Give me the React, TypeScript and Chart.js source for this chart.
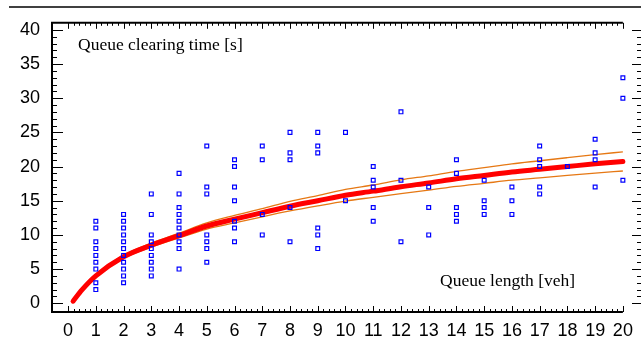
import React, { useEffect, useRef } from "react";
import { Chart, registerables } from "chart.js";

Chart.register(...registerables);

// Observed queue lengths [veh] and the clearing times [s] recorded at each one
const queueLengths = [1, 2, 3, 4, 5, 6, 7, 8, 9, 10, 11, 12, 13, 14, 15, 16, 17, 18, 19, 20];
const clearingTimes: number[][] = [
  [2, 3, 5, 6, 7, 8, 9, 11, 12],
  [3, 4, 5, 6, 7, 8, 9, 10, 11, 12, 13],
  [4, 5, 6, 7, 8, 9, 10, 13, 16],
  [5, 8, 9, 10, 11, 12, 13, 14, 16, 19],
  [6, 8, 9, 10, 16, 17, 23],
  [9, 11, 12, 15, 17, 20, 21],
  [10, 13, 21, 23],
  [9, 14, 21, 22, 25],
  [8, 10, 11, 22, 23, 25],
  [15, 25],
  [12, 14, 17, 18, 20],
  [9, 18, 28],
  [10, 14, 17],
  [12, 13, 14, 19, 21],
  [13, 14, 15, 18],
  [13, 15, 17],
  [16, 17, 20, 21, 23],
  [20],
  [17, 21, 22, 24],
  [18, 30, 33],
];

// Fitted curve and its confidence band
const fitX = [0.18, 0.5, 1, 2, 3, 4, 5, 6, 7, 8, 9, 10, 11, 12, 13, 14, 15, 16, 17, 18, 19, 20];
const fitMid = [0.3, 1.95, 4.0, 6.8, 8.5, 9.9, 11.3, 12.3, 13.25, 14.2, 15.0, 15.8, 16.4, 17.05, 17.6, 18.2, 18.7, 19.2, 19.6, 20.0, 20.4, 20.75];
const fitUpper = [0.35, 2.05, 4.15, 7.0, 8.8, 10.25, 11.75, 12.85, 13.85, 14.9, 15.75, 16.65, 17.3, 18.05, 18.65, 19.3, 19.85, 20.4, 20.85, 21.3, 21.75, 22.15];
const fitLower = [0.25, 1.85, 3.85, 6.6, 8.2, 9.55, 10.85, 11.75, 12.65, 13.5, 14.25, 14.95, 15.5, 16.05, 16.55, 17.1, 17.55, 18.0, 18.35, 18.7, 19.05, 19.35];

const xTickValues = [0, 1, 2, 3, 4, 5, 6, 7, 8, 9, 10, 11, 12, 13, 14, 15, 16, 17, 18, 19, 20];
const yTickValues = [0, 5, 10, 15, 20, 25, 30, 35, 40];

const yLabel = "Queue clearing time [s]";
const xLabel = "Queue length [veh]";

const framePlugin = {
  id: "frame",
  afterDraw(chart: any) {
    const { ctx, chartArea } = chart;
    const xs = chart.scales.x;
    const ys = chart.scales.y;
    const L = chartArea.left;
    const T = chartArea.top;
    const B = chartArea.bottom;
    const R = 641;
    const xEnd = xs.getPixelForValue(20);
    ctx.save();
    ctx.strokeStyle = "#000";
    // top figure line
    ctx.lineWidth = 1.5;
    ctx.beginPath();
    ctx.moveTo(9, 7);
    ctx.lineTo(641, 7);
    ctx.stroke();
    // frame
    ctx.lineWidth = 2;
    ctx.beginPath();
    ctx.moveTo(xEnd, T);
    ctx.lineTo(L, T);
    ctx.lineTo(L, B);
    ctx.lineTo(xEnd, B);
    ctx.stroke();
    // x ticks (bottom and top)
    ctx.lineWidth = 1;
    ctx.beginPath();
    for (let i = 0; i <= 100; i++) {
      const v = i / 5;
      const px = Math.round(xs.getPixelForValue(v)) + 0.5;
      const len = i % 5 === 0 ? 6 : 3;
      ctx.moveTo(px, B);
      ctx.lineTo(px, B - len);
      ctx.moveTo(px, T);
      ctx.lineTo(px, T + len);
    }
    // y ticks (left and right)
    for (let v = 0; v <= 40; v++) {
      const py = Math.round(ys.getPixelForValue(v)) + 0.5;
      const major = v % 5 === 0;
      ctx.moveTo(L, py);
      ctx.lineTo(L + (major ? 11 : 5), py);
      ctx.moveTo(R, py);
      ctx.lineTo(R - (major ? 9 : 4), py);
    }
    ctx.stroke();
    // annotations
    ctx.fillStyle = "#000";
    ctx.font = '17.5px "Liberation Serif", "Times New Roman", serif';
    ctx.textBaseline = "alphabetic";
    ctx.textAlign = "left";
    ctx.fillText(yLabel, 78, 50);
    ctx.fillText(xLabel, 440, 286);
    ctx.restore();
  },
};

export default function App() {
  const canvasRef = useRef<HTMLCanvasElement | null>(null);

  useEffect(() => {
    if (!canvasRef.current) return;
    const points: { x: number; y: number }[] = [];
    queueLengths.forEach((q, i) => {
      clearingTimes[i].forEach((t) => points.push({ x: q, y: t }));
    });
    const toXY = (ys: number[]) => fitX.map((x, i) => ({ x, y: ys[i] }));

    const chart = new Chart(canvasRef.current, {
      type: "scatter",
      data: {
        datasets: [
          {
            label: "Observed",
            data: points,
            pointStyle: "rect",
            pointRadius: 2.7,
            borderWidth: 1.2,
            borderColor: "#0000FF",
            backgroundColor: "rgba(0,0,0,0)",
            showLine: false,
          },
          {
            label: "Fit",
            data: toXY(fitMid),
            showLine: true,
            borderColor: "#FF0000",
            borderWidth: 5,
            pointRadius: 0,
            cubicInterpolationMode: "monotone",
            borderCapStyle: "round",
          },
          {
            label: "Upper",
            data: toXY(fitUpper),
            showLine: true,
            borderColor: "rgb(230,120,20)",
            borderWidth: 1.3,
            pointRadius: 0,
            cubicInterpolationMode: "monotone",
          },
          {
            label: "Lower",
            data: toXY(fitLower),
            showLine: true,
            borderColor: "rgb(230,120,20)",
            borderWidth: 1.3,
            pointRadius: 0,
            cubicInterpolationMode: "monotone",
          },
        ],
      } as any,
      options: {
        responsive: false,
        animation: false,
        layout: { padding: { top: 15, right: 0, left: 0, bottom: 0 } },
        plugins: {
          legend: { display: false },
          tooltip: { enabled: false },
        },
        scales: {
          x: {
            type: "linear",
            min: -0.58,
            max: 20.45,
            grid: { display: false, drawTicks: false },
            border: { display: false },
            afterBuildTicks: (scale: any) => {
              scale.ticks = xTickValues.map((v) => ({ value: v }));
            },
            afterFit: (scale: any) => {
              scale.height = 29;
            },
            ticks: {
              autoSkip: false,
              maxRotation: 0,
              padding: 8,
              color: "#000",
              font: { family: '"Liberation Sans", Arial, sans-serif', size: 18 },
            },
          },
          y: {
            type: "linear",
            min: -1.28,
            max: 41.03,
            grid: { display: false, drawTicks: false },
            border: { display: false },
            afterBuildTicks: (scale: any) => {
              scale.ticks = yTickValues.map((v) => ({ value: v }));
            },
            afterFit: (scale: any) => {
              scale.width = 52;
            },
            ticks: {
              padding: 12,
              color: "#000",
              font: { family: '"Liberation Sans", Arial, sans-serif', size: 18 },
            },
          },
        },
      },
      plugins: [framePlugin],
    });
    return () => chart.destroy();
  }, []);

  return (
    <div style={{ position: "absolute", left: 0, top: 0, width: 641, height: 341, background: "#fff" }}>
      <canvas ref={canvasRef} width={641} height={341} style={{ display: "block" }} />
    </div>
  );
}
